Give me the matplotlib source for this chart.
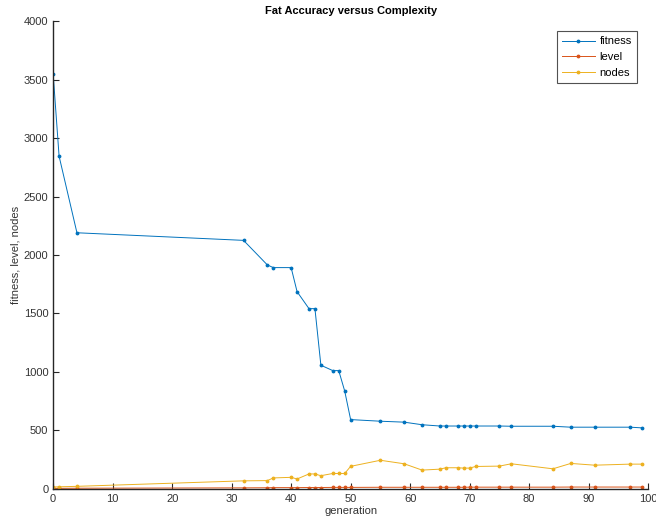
# Fat accuracy versus complexity, MATLAB-style line plot
import matplotlib
matplotlib.use("Agg")
import matplotlib.pyplot as plt

generation = [0, 1, 4, 32, 36, 37, 40, 41, 43, 44, 45, 47, 48, 49, 50, 55, 59,
              62, 65, 66, 68, 69, 70, 71, 75, 77, 84, 87, 91, 97, 99]
fitness = [3550, 2845, 2190, 2125, 1915, 1892, 1892, 1686, 1541, 1541, 1057, 1011,
           1011, 837, 592, 578, 570, 548, 537, 537, 537, 537, 537, 537, 537, 535,
           535, 527, 527, 527, 521]
level = [3, 4, 5, 8, 9, 10, 10, 10, 11, 11, 11, 12, 12, 12, 12, 13, 13,
         13, 13, 13, 13, 13, 14, 14, 14, 14, 14, 15, 15, 15, 15]
nodes = [15, 17, 21, 68, 70, 93, 98, 84, 127, 127, 112, 131, 131, 131, 192, 244, 214,
         160, 168, 180, 180, 177, 177, 191, 194, 214, 171, 217, 202, 211, 211]

plt.rcParams['font.family'] = ['Liberation Sans', 'DejaVu Sans']

fig = plt.figure(figsize=(6.56, 5.29), dpi=100)
ax = fig.add_axes([0.081, 0.076, 0.907, 0.884])

ax.plot(generation, fitness, '.-', color='#0072BD', lw=0.7, ms=3.5, label='fitness')
ax.plot(generation, level, '.-', color='#D95319', lw=0.7, ms=3.5, label='level')
ax.plot(generation, nodes, '.-', color='#EDB120', lw=0.7, ms=3.5, label='nodes')

ax.set_xlim(0, 100)
ax.set_ylim(0, 4000)
ax.set_xticks(range(0, 101, 10))
ax.set_yticks(range(0, 4001, 500))
ax.spines['top'].set_visible(False)
ax.spines['right'].set_visible(False)
for s in ('left', 'bottom'):
    ax.spines[s].set_color('#262626')
    ax.spines[s].set_linewidth(1.0)
ax.tick_params(direction='in', length=4, width=0.8, colors='#262626', labelsize=8,
               labelcolor='#333333')

ax.set_xlabel('generation', fontsize=8, color='#333333', labelpad=2)
ax.set_ylabel('fitness, level, nodes', fontsize=8, color='#333333', labelpad=2)
ax.set_title('Fat Accuracy versus Complexity', fontsize=8, fontweight='bold', pad=5)

leg = ax.legend(loc='upper right', bbox_to_anchor=(0.99, 0.99), fontsize=8,
                fancybox=False, edgecolor='#262626', handlelength=3.0,
                borderpad=0.45, labelspacing=0.5, handletextpad=0.4)
leg.get_frame().set_linewidth(0.8)

fig.savefig('out.png', dpi=100)
